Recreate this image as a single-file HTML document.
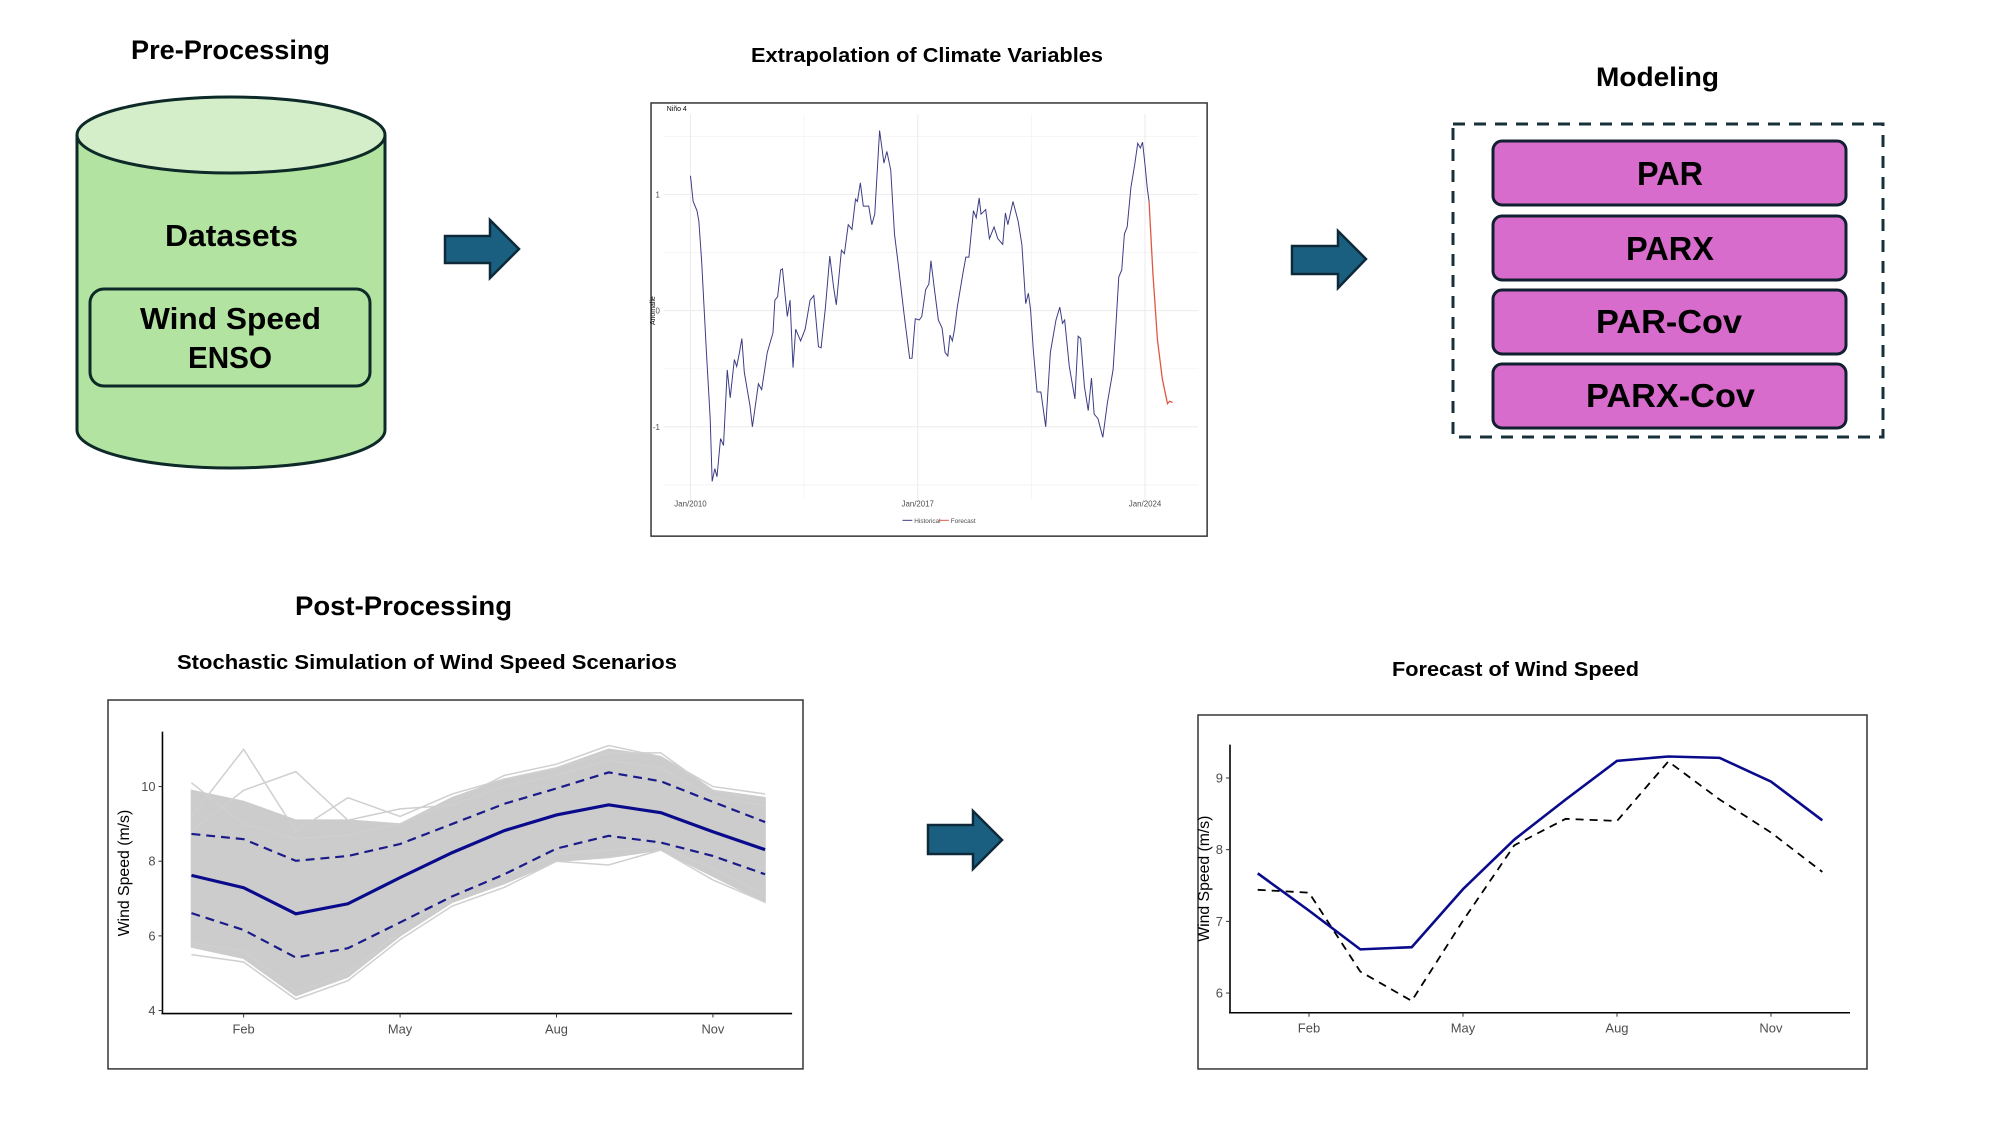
<!DOCTYPE html>
<html><head><meta charset="utf-8">
<style>
html,body{margin:0;padding:0;background:#fff;}
svg{display:block;}
.ttl{font-family:"Liberation Sans Narrow","Liberation Sans",sans-serif;font-weight:bold;fill:#000;}
.tick{font-family:"Liberation Sans Narrow","Liberation Sans",sans-serif;fill:#4d4d4d;}
</style></head>
<body>
<svg id="root" width="2000" height="1125" viewBox="0 0 2000 1125" xmlns="http://www.w3.org/2000/svg">
  <text class="ttl" x="131" y="59" font-size="27" textLength="199" lengthAdjust="spacingAndGlyphs">Pre-Processing</text>
  <g>
    <path d="M77,135 L77,430 A154,38 0 0 0 385,430 L385,135" fill="#b3e3a1" stroke="#0d2a28" stroke-width="3"/>
    <ellipse cx="231" cy="135" rx="154" ry="38" fill="#d3eec9" stroke="#0d2a28" stroke-width="3"/>
  </g>
  <text class="ttl" x="165" y="246" font-size="31" textLength="133" lengthAdjust="spacingAndGlyphs">Datasets</text>
  <rect x="90" y="289" width="280" height="97" rx="14" fill="#b3e3a1" stroke="#0d2a28" stroke-width="3"/>
  <text class="ttl" x="140" y="329" font-size="31" textLength="181" lengthAdjust="spacingAndGlyphs">Wind Speed</text>
  <text class="ttl" x="188" y="368" font-size="31" textLength="84" lengthAdjust="spacingAndGlyphs">ENSO</text>

  <path d="M445,236 L490,236 L490,220 L519,249 L490,278 L490,263 L445,263 Z" fill="#1a5f7f" stroke="#0e2a3a" stroke-width="2.5"/>
  <path d="M1292,246 L1338,246 L1338,231 L1366,259 L1338,288 L1338,274 L1292,274 Z" fill="#1a5f7f" stroke="#0e2a3a" stroke-width="2.5"/>
  <path d="M928,825 L973,825 L973,811 L1002,840 L973,869 L973,854 L928,854 Z" fill="#1a5f7f" stroke="#0e2a3a" stroke-width="2.5"/>

  <text class="ttl" x="751" y="62" font-size="20" textLength="352" lengthAdjust="spacingAndGlyphs">Extrapolation of Climate Variables</text>
  <g transform="translate(5.2,0.1) scale(0.986,0.989)">
    <rect x="655" y="104" width="564" height="438" fill="#fff" stroke="#333" stroke-width="1.5"/>
    <g id="nino"></g>
  </g>

  <text class="ttl" x="1596" y="86" font-size="27" textLength="123" lengthAdjust="spacingAndGlyphs">Modeling</text>
  <g transform="translate(-5,0)">
  <rect x="1458" y="124" width="430" height="313" fill="none" stroke="#17303a" stroke-width="3" stroke-dasharray="12,9"/>
  <rect x="1498" y="141" width="353" height="64" rx="9" fill="#d86ccc" stroke="#102030" stroke-width="3"/>
  <text class="ttl" x="1642" y="185" font-size="33" textLength="66" lengthAdjust="spacingAndGlyphs">PAR</text>
  <rect x="1498" y="216" width="353" height="64" rx="9" fill="#d86ccc" stroke="#102030" stroke-width="3"/>
  <text class="ttl" x="1631" y="260" font-size="33" textLength="88" lengthAdjust="spacingAndGlyphs">PARX</text>
  <rect x="1498" y="290" width="353" height="64" rx="9" fill="#d86ccc" stroke="#102030" stroke-width="3"/>
  <text class="ttl" x="1601" y="333" font-size="33" textLength="146" lengthAdjust="spacingAndGlyphs">PAR-Cov</text>
  <rect x="1498" y="364" width="353" height="64" rx="9" fill="#d86ccc" stroke="#102030" stroke-width="3"/>
  <text class="ttl" x="1591" y="407" font-size="33" textLength="169" lengthAdjust="spacingAndGlyphs">PARX-Cov</text>
  </g>

  <text class="ttl" x="295" y="615" font-size="27" textLength="217" lengthAdjust="spacingAndGlyphs">Post-Processing</text>
  <text class="ttl" x="177" y="669" font-size="20" textLength="500" lengthAdjust="spacingAndGlyphs">Stochastic Simulation of Wind Speed Scenarios</text>
  <g transform="translate(0.1,-0.2) scale(0.990,0.989)">
    <rect x="109" y="708" width="702" height="373" fill="#fff" stroke="#333" stroke-width="1.5"/>
    <g id="stoch"></g>
  </g>

  <text class="ttl" x="1392" y="676" font-size="20" textLength="247" lengthAdjust="spacingAndGlyphs">Forecast of Wind Speed</text>
  <g transform="translate(-13,3.1) scale(1,0.986)">
    <rect x="1211" y="722" width="669" height="359" fill="#fff" stroke="#333" stroke-width="1.5"/>
    <g id="fcst"></g>
  </g>
</svg>
<script>
var NS="http://www.w3.org/2000/svg";
var ninoMonths=[0,1,2.4,3.1,4.1,4.9,5.9,7.3,8,9,9.8,11.1,12.2,13.6,14.7,16.2,17.1,18.1,19,19.9,22,22.9,25.1,26.3,28.4,30.5,31.2,32.2,33.3,34,35.8,36.8,37.9,38.9,40.7,42.4,44.2,45.6,47.3,48.3,49.9,51.5,52.9,53.9,55.8,56.9,58.3,59.7,61,61.7,62.8,63.9,65.9,67,68.1,69.9,71.5,72.6,74,75.4,76.8,78.9,81,81.9,83.1,84.6,85.5,86.9,88.1,88.9,90.2,91.6,93,94.1,95.1,95.9,96.8,97.6,98.6,100.7,101.8,102.9,104.6,105.6,106.7,107.4,109.1,110.5,112.2,113.6,115.4,116.4,117.3,119.2,121.1,122.5,123.9,124.9,125.7,126.7,128.1,129.5,131.3,133,135.1,136.5,137.5,138.3,140,142.1,143.3,144.2,145.6,147,148.2,149.2,150.6,152.4,154.1,156.2,157.2,158.3,159.4,160.4,161.4,162.8,164.2,165.3,166.3,167.1,168.1,168.8,169.5];
var ninoValues=[1.16,0.94,0.86,0.77,0.43,0.09,-0.36,-0.93,-1.47,-1.36,-1.43,-1.10,-1.16,-0.51,-0.75,-0.42,-0.48,-0.36,-0.24,-0.53,-0.82,-1.00,-0.63,-0.68,-0.36,-0.19,0.09,0.12,0.35,0.36,-0.05,0.09,-0.49,-0.16,-0.26,-0.16,0.09,0.13,-0.31,-0.32,0.03,0.47,0.20,0.05,0.52,0.49,0.74,0.70,0.96,0.94,1.10,0.90,0.90,0.74,0.83,1.55,1.27,1.37,1.21,0.66,0.40,-0.02,-0.41,-0.41,-0.07,-0.08,-0.05,0.18,0.23,0.43,0.18,-0.08,-0.15,-0.36,-0.39,-0.21,-0.26,-0.16,0.03,0.32,0.46,0.46,0.86,0.80,0.97,0.83,0.87,0.62,0.72,0.62,0.57,0.84,0.74,0.94,0.77,0.57,0.06,0.15,0.01,-0.34,-0.70,-0.70,-1.00,-0.36,-0.08,0.03,-0.11,-0.08,-0.48,-0.76,-0.22,-0.24,-0.65,-0.86,-0.58,-0.89,-0.93,-1.09,-0.79,-0.51,-0.14,0.29,0.35,0.66,0.72,1.06,1.26,1.44,1.40,1.45,1.23,1.06,0.94];
var fcstMonths=[169.5,170.9,172.6,174.4,176.3,177.1,178.2];
var fcstValues=[0.94,0.32,-0.25,-0.59,-0.80,-0.78,-0.79];
var ninoYTicks=[-1,0,1];
var ninoXTickMonths=[0,84,168];
var ninoXTickLabels=["Jan/2010","Jan/2017","Jan/2024"];

var months=[1,2,3,4,5,6,7,8,9,10,11,12];
var simMean=[7.62,7.29,6.59,6.86,7.56,8.23,8.82,9.24,9.51,9.30,8.79,8.31];
var simUpper=[8.73,8.59,8.01,8.14,8.46,9.00,9.54,9.95,10.38,10.14,9.59,9.05];
var simLower=[6.61,6.16,5.42,5.67,6.36,7.06,7.65,8.34,8.68,8.50,8.14,7.65];
var bandTop=[9.9,9.6,9.1,9.1,9.0,9.7,10.2,10.5,11.0,10.8,9.9,9.7];
var bandBottom=[5.7,5.4,4.4,4.9,6.0,6.9,7.4,8.0,8.1,8.3,7.6,6.9];
var scen1=[10.1,9.0,8.6,8.7,9.0,9.6,10.3,10.6,11.1,10.8,10.0,9.8];
var scen2=[9.2,11.0,8.8,9.7,9.2,9.8,10.2,10.5,10.9,10.9,9.9,9.6];
var scen3=[8.8,9.9,10.4,9.1,9.4,9.5,10.0,10.3,10.7,10.5,9.7,9.5];
var scen4=[5.5,5.3,4.3,4.8,5.9,6.8,7.3,8.0,7.9,8.3,7.5,6.9];
var scen5=[5.8,5.6,4.5,5.0,6.1,7.2,7.6,8.2,8.3,8.4,7.8,7.1];
var stochYTicks=[4,6,8,10];
var monthTicks=[2,5,8,11];
var monthTickLabels=["Feb","May","Aug","Nov"];

var fcPredicted=[7.67,7.15,6.61,6.64,7.45,8.14,8.70,9.24,9.30,9.28,8.95,8.41];
var fcObserved=[7.44,7.40,6.30,5.89,7.01,8.06,8.43,8.40,9.23,8.70,8.24,7.69];
var fcYTicks=[6,7,8,9];

function el(parent,tag,attrs){var e=document.createElementNS(NS,tag);for(var k in attrs)e.setAttribute(k,attrs[k]);parent.appendChild(e);return e;}
function poly(xs,ys,fx,fy){return xs.map(function(x,i){return fx(x).toFixed(1)+","+fy(ys[i]).toFixed(1);}).join(" ");}

(function(){
  var g=document.getElementById('nino');
  var X=function(m){return 695+m*(461/168);};
  var Y=function(v){return 314-v*117.5;};
  [-1.5,-0.5,0.5,1.5].forEach(function(v){var l=el(g,'line',{x1:668,x2:1210,y1:Y(v),y2:Y(v),stroke:'#f3f3f3','stroke-width':0.8});
    
    });
  ninoYTicks.forEach(function(v){var l=el(g,'line',{x1:668,x2:1210,y1:Y(v),y2:Y(v),stroke:'#ebebeb','stroke-width':1});
    
    
    var t=el(g,'text',{x:664,y:Y(v)+3,'font-size':8,'text-anchor':'end',class:'tick'});t.textContent=v;
    
    });
  [42,126].forEach(function(m){var l=el(g,'line',{x1:X(m),x2:X(m),y1:115,y2:505,stroke:'#f3f3f3','stroke-width':0.8});
    
    });
  ninoXTickMonths.forEach(function(m,i){var l=el(g,'line',{x1:X(m),x2:X(m),y1:115,y2:505,stroke:'#ebebeb','stroke-width':1});
    
    
    var t=el(g,'text',{x:X(m),y:512,'font-size':8,'text-anchor':'middle',class:'tick'});t.textContent=ninoXTickLabels[i];
    
    });
  var h=el(g,'polyline',{points:poly(ninoMonths,ninoValues,X,Y),fill:'none',stroke:'#3b3b84','stroke-width':1});
  
  
  var f=el(g,'polyline',{points:poly(fcstMonths,fcstValues,X,Y),fill:'none',stroke:'#e0553f','stroke-width':1.3});
  
  
  var t=el(g,'text',{x:671,y:112,'font-size':7,fill:'#000','font-family':'Liberation Sans, sans-serif'});t.textContent='Niño 4';
  
  
  var yl=el(g,'text',{x:0,y:0,'font-size':7,fill:'#000','font-family':'Liberation Sans, sans-serif','text-anchor':'middle',transform:'translate(659,314) rotate(-90)'});yl.textContent='Anomalie';
  
  
  var l1=el(g,'line',{x1:910,x2:920,y1:526,y2:526,stroke:'#3b3b84','stroke-width':1});
  
  
  var t1=el(g,'text',{x:922,y:528.5,'font-size':6.5,class:'tick'});t1.textContent='Historical';
  
  
  var l2=el(g,'line',{x1:947,x2:957,y1:526,y2:526,stroke:'#e0553f','stroke-width':1});
  
  
  var t2=el(g,'text',{x:959,y:528.5,'font-size':6.5,class:'tick'});t2.textContent='Forecast';
  
  
})();

(function(){
  var g=document.getElementById('stoch');
  var X=function(m){return 246+(m-2)*52.67;};
  var Y=function(v){return 1022-(v-4)*37.75;};
  var pts=poly(months,bandTop,X,Y)+" "+poly(months.slice().reverse(),bandBottom.slice().reverse(),X,Y);
  var b=el(g,'polygon',{points:pts,fill:'#cccccc',stroke:'#cccccc','stroke-width':1.5});
  
  
  [scen1,scen2,scen3,scen4,scen5].forEach(function(s){var p=el(g,'polyline',{points:poly(months,s,X,Y),fill:'none',stroke:'#cfcfcf','stroke-width':1.5});
    
    });
  var u=el(g,'polyline',{points:poly(months,simUpper,X,Y),fill:'none',stroke:'#1a1a8a','stroke-width':2.2,'stroke-dasharray':'9,6'});
  
  
  var lo=el(g,'polyline',{points:poly(months,simLower,X,Y),fill:'none',stroke:'#1a1a8a','stroke-width':2.2,'stroke-dasharray':'9,6'});
  
  
  var m=el(g,'polyline',{points:poly(months,simMean,X,Y),fill:'none',stroke:'#0a0a8c','stroke-width':3.2});
  
  
  var ya=el(g,'line',{x1:164,x2:164,y1:740,y2:1025,stroke:'#000','stroke-width':1.6});
  
  
  var xa=el(g,'line',{x1:163,x2:800,y1:1025,y2:1025,stroke:'#000','stroke-width':1.6});
  
  
  stochYTicks.forEach(function(v){var tk=el(g,'line',{x1:160,x2:164,y1:Y(v),y2:Y(v),stroke:'#333'});
    
    
    var t=el(g,'text',{x:157,y:Y(v)+4.5,'font-size':13,'text-anchor':'end',class:'tick'});t.textContent=v;
    
    });
  monthTicks.forEach(function(mm,i){var tk=el(g,'line',{x1:X(mm),x2:X(mm),y1:1025,y2:1029,stroke:'#333'});
    
    
    var t=el(g,'text',{x:X(mm),y:1045,'font-size':13,'text-anchor':'middle',class:'tick'});t.textContent=monthTickLabels[i];
    
    });
  var yl=el(g,'text',{x:0,y:0,'font-size':16,fill:'#000','font-family':'Liberation Sans, sans-serif','text-anchor':'middle',transform:'translate(130,883) rotate(-90)'});yl.textContent='Wind Speed (m/s)';
  
  
})();

(function(){
  var g=document.getElementById('fcst');
  var X=function(m){return 1322+(m-2)*51.33;};
  var Y=function(v){return 1004-(v-6)*72.7;};
  var o=el(g,'polyline',{points:poly(months,fcObserved,X,Y),fill:'none',stroke:'#000','stroke-width':1.8,'stroke-dasharray':'8,6'});
  
  
  var p=el(g,'polyline',{points:poly(months,fcPredicted,X,Y),fill:'none',stroke:'#0a0a8c','stroke-width':2.6});
  
  
  var ya=el(g,'line',{x1:1243,x2:1243,y1:752,y2:1024,stroke:'#000','stroke-width':1.6});
  
  
  var xa=el(g,'line',{x1:1242,x2:1863,y1:1024,y2:1024,stroke:'#000','stroke-width':1.6});
  
  
  fcYTicks.forEach(function(v){var tk=el(g,'line',{x1:1239,x2:1243,y1:Y(v),y2:Y(v),stroke:'#333'});
    
    
    var t=el(g,'text',{x:1236,y:Y(v)+4.5,'font-size':13,'text-anchor':'end',class:'tick'});t.textContent=v;
    
    });
  monthTicks.forEach(function(mm,i){var tk=el(g,'line',{x1:X(mm),x2:X(mm),y1:1024,y2:1028,stroke:'#333'});
    
    
    var t=el(g,'text',{x:X(mm),y:1044,'font-size':13,'text-anchor':'middle',class:'tick'});t.textContent=monthTickLabels[i];
    
    });
  var yl=el(g,'text',{x:0,y:0,'font-size':16,fill:'#000','font-family':'Liberation Sans, sans-serif','text-anchor':'middle',transform:'translate(1222,888) rotate(-90)'});yl.textContent='Wind Speed (m/s)';
  
  
})();
</script>
</body></html>
